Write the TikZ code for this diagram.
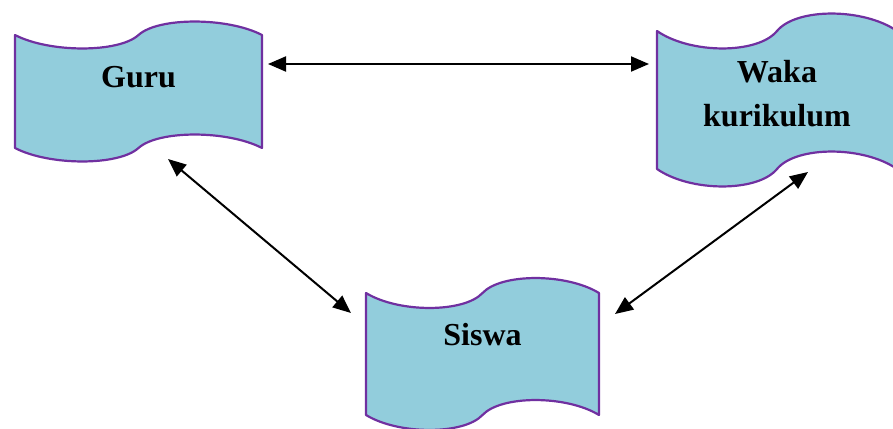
\documentclass[tikz,border=0pt]{standalone}
\usepackage{fontspec}
\setmainfont{Liberation Serif}
\usetikzlibrary{arrows.meta}
\definecolor{bannerfill}{HTML}{92CDDC}
\definecolor{bannerline}{HTML}{7030A0}
\tikzset{
  banner/.style={fill=bannerfill, draw=bannerline, line width=2.2pt, line join=round},
  bannertext/.style={font=\bfseries\fontsize{32}{44}\selectfont, align=center, text=black, inner sep=0pt},
  link/.style={line width=2pt, {Triangle[length=18pt,width=15pt]}-{Triangle[length=18pt,width=15pt]}},
}
% wavy banner: left, top, width, height, wave amplitude
\newcommand\wavebanner[5]{%
  \path[banner] (#1,#2)
    .. controls ({#1+0.14*#3},{#2+1.33*#5}) and ({#1+0.42*#3},{#2+1.33*#5}) .. ({#1+0.5*#3},#2)
    .. controls ({#1+0.58*#3},{#2-1.33*#5}) and ({#1+0.86*#3},{#2-1.33*#5}) .. ({#1+#3},#2)
    -- ({#1+#3},{#2+#4})
    .. controls ({#1+0.86*#3},{#2+#4-1.33*#5}) and ({#1+0.58*#3},{#2+#4-1.33*#5}) .. ({#1+0.5*#3},{#2+#4})
    .. controls ({#1+0.42*#3},{#2+#4+1.33*#5}) and ({#1+0.14*#3},{#2+#4+1.33*#5}) .. (#1,{#2+#4})
    -- cycle;}
\begin{document}
\begin{tikzpicture}[x=1pt, y=-1pt]
  \useasboundingbox (0,0) rectangle (893,428);
  \clip (0,0) rectangle (893,428);

  % banners
  \wavebanner{15}{35}{247}{113}{13.5}
  \wavebanner{657}{31}{240}{138}{17.5}
  \wavebanner{366}{293}{233}{122}{15}

  % labels
  \node[bannertext, anchor=base] (guru) at (138.5,87) {Guru};
  \node[bannertext] (waka) at (777,94) {Waka\\kurikulum};
  \node[bannertext, anchor=base] (siswa) at (482.5,345) {Siswa};

  % connector ends
  \coordinate (guru-r) at (268,64);
  \coordinate (waka-l) at (649,64);
  \coordinate (guru-b) at (168,159);
  \coordinate (siswa-l) at (351,313);
  \coordinate (waka-b) at (808,172);
  \coordinate (siswa-r) at (615,314);

  % connectors
  \draw[link] (guru-r) -- (waka-l);
  \draw[link] (guru-b) -- (siswa-l);
  \draw[link] (waka-b) -- (siswa-r);
\end{tikzpicture}
\end{document}
